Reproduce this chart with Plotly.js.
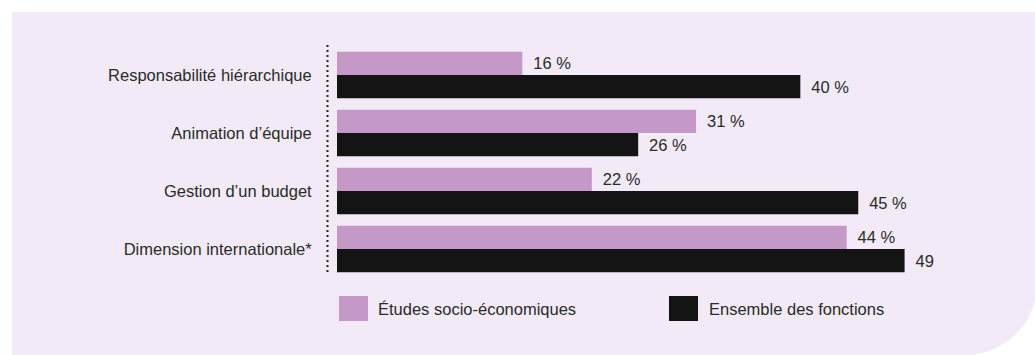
<!DOCTYPE html>
<html>
<head>
<meta charset="utf-8">
<script src="https://cdn.plot.ly/plotly-3.0.1.min.js"></script>
<style>
  html, body { margin: 0; padding: 0; background: #ffffff; }
  #chart { width: 1035px; height: 355px; }
</style>
</head>
<body>
<div id="chart"></div>
<script>
// ---- data ----
const categories = ['Responsabilité hiérarchique', 'Animation d’équipe', 'Gestion d’un budget', 'Dimension internationale*'];
const seriesNames = ['Études socio-économiques', 'Ensemble des fonctions'];
const etudesValues = [16, 31, 22, 44];
const ensembleValues = [40, 26, 45, 49];
const etudesLabels = ['16 %', '31 %', '22 %', '44 %'];
const ensembleLabels = ['40 %', '26 %', '45 %', '49'];

// ---- style ----
const W = 1035, H = 355;
const M = { l: 337, r: 3, t: 46, b: 77 };
const PW = W - M.l - M.r, PH = H - M.t - M.b;
const px = x => (x - M.l) / PW;
const py = y => 1 - (y - M.t) / PH;
const FONT = 'Liberation Sans, Arial, sans-serif';
const TXT = '#2a2a2a';
const PURPLE = '#C599C7';
const BLACK = '#141414';
const PANEL = '#F2EAF6';

const traces = [
  {
    type: 'bar', orientation: 'h', name: seriesNames[0],
    y: categories, x: etudesValues, text: etudesLabels,
    texttemplate: '\u00a0\u2009%{text}', textposition: 'outside', cliponaxis: false,
    constraintext: 'none',
    textfont: { family: FONT, size: 16.5, color: TXT },
    marker: { color: PURPLE, line: { width: 0 } },
    hoverinfo: 'none'
  },
  {
    type: 'bar', orientation: 'h', name: seriesNames[1],
    y: categories, x: ensembleValues, text: ensembleLabels,
    texttemplate: '\u00a0\u2009%{text}', textposition: 'outside', cliponaxis: false,
    constraintext: 'none',
    textfont: { family: FONT, size: 16.5, color: TXT },
    marker: { color: BLACK, line: { width: 0 } },
    hoverinfo: 'none'
  }
];

const panelPath = 'M' + px(12) + ',' + py(12) +
  ' L' + px(1040) + ',' + py(12) +
  ' L' + px(1040) + ',' + py(300) +
  ' L' + px(1035) + ',' + py(300) +
  ' C' + px(1028) + ',' + py(332) + ' ' + px(1000) + ',' + py(352) + ' ' + px(968) + ',' + py(356) +
  ' L' + px(12) + ',' + py(356) + ' Z';

const shapes = [
  { type: 'path', xref: 'paper', yref: 'paper', path: panelPath,
    fillcolor: PANEL, line: { width: 0 }, layer: 'below' },
  { type: 'line', xref: 'paper', yref: 'paper',
    x0: px(327.5), x1: px(327.5), y0: py(45), y1: py(272),
    line: { color: '#222222', width: 2, dash: '2px,3px' }, layer: 'above' },
  // legend swatches
  { type: 'rect', xref: 'paper', yref: 'paper',
    x0: px(339), x1: px(368), y0: py(296), y1: py(321),
    fillcolor: PURPLE, line: { width: 0 } },
  { type: 'rect', xref: 'paper', yref: 'paper',
    x0: px(669), x1: px(698), y0: py(296), y1: py(321),
    fillcolor: BLACK, line: { width: 0 } }
];

const annotations = [
  { xref: 'paper', yref: 'paper', x: px(376), y: py(308.5), xanchor: 'left', yanchor: 'middle',
    text: seriesNames[0], showarrow: false, font: { family: FONT, size: 16.5, color: TXT } },
  { xref: 'paper', yref: 'paper', x: px(707), y: py(308.5), xanchor: 'left', yanchor: 'middle',
    text: seriesNames[1], showarrow: false, font: { family: FONT, size: 16.5, color: TXT } }
];

const layout = {
  width: W, height: H,
  margin: M,
  paper_bgcolor: '#ffffff',
  plot_bgcolor: 'rgba(0,0,0,0)',
  barmode: 'group',
  bargap: 0.195,
  bargroupgap: 0,
  showlegend: false,
  font: { family: FONT, size: 16.5, color: TXT },
  xaxis: {
    range: [0, 60], showgrid: false, zeroline: false, showline: false,
    showticklabels: false, ticks: '', fixedrange: true
  },
  yaxis: {
    type: 'category', autorange: 'reversed',
    showgrid: false, zeroline: false, showline: false,
    ticks: 'outside', ticklen: 21, tickcolor: 'rgba(0,0,0,0)',
    tickfont: { family: FONT, size: 16.5, color: TXT }, fixedrange: true
  },
  shapes: shapes,
  annotations: annotations
};

Plotly.newPlot('chart', traces, layout, { displayModeBar: false, staticPlot: true });
</script>
</body>
</html>
